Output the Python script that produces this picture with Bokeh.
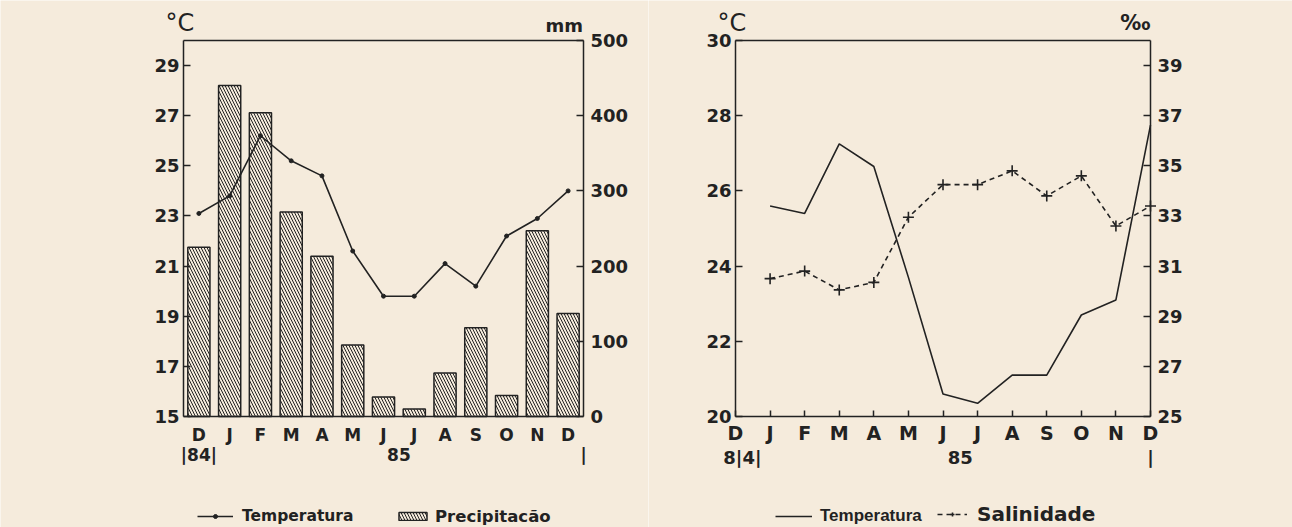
from bokeh.plotting import figure
from bokeh.models import Range1d, LinearAxis, FixedTicker, Label, Legend, LegendItem
from bokeh.layouts import row
from bokeh.embed import file_html
from bokeh.resources import INLINE

# ---------------- data ----------------
months = ["D", "J", "F", "M", "A", "M", "J", "J", "A", "S", "O", "N", "D"]
month_idx = list(range(13))

# left chart: precipitation (mm) and air temperature (°C), Dec 84 .. Dec 85
precip_mm = [225, 440, 404, 272, 213, 95, 26, 10, 58, 118, 28, 247, 137]
temp_air = [23.1, 23.8, 26.2, 25.2, 24.6, 21.6, 19.8, 19.8, 21.1, 20.2, 22.2, 22.9, 24.0]

# right chart: water temperature (°C) and salinity (‰), Jan 85 .. Dec 85
water_idx = list(range(1, 13))
temp_water = [25.6, 25.4, 27.25, 26.65, 23.7, 20.6, 20.35, 21.1, 21.1, 22.7, 23.1, 27.75]
salinity = [30.5, 30.8, 30.05, 30.35, 32.95, 34.25, 34.25, 34.8, 33.8, 34.6, 32.6, 33.4]

left_temp_ticks = [15, 17, 19, 21, 23, 25, 27, 29]
mm_ticks = [0, 100, 200, 300, 400, 500]
right_temp_ticks = [20, 22, 24, 26, 28, 30]
sal_ticks = [25, 27, 29, 31, 33, 35, 37, 39]
year_ticks_left = [0, 6.5, 12.5]
year_labels_left = ["|84|", "85", "|"]
year_ticks_right = [0.2, 6.5, 12]
year_labels_right = ["8|4|", "85", "|"]

# ---------------- layout constants (pixels) ----------------
H = 527
W1, W2 = 648, 644
BOX_T, BOX_B = 40, 416          # top / bottom of both chart boxes
L1, R1 = 183, 583               # left chart box
L2, R2 = 87, 502                # right chart box (relative to its figure)

bg = "#f5ebdc"
ink = "#222222"
FONT = "DejaVu Sans"


def hrng(lo, hi, p_lo, p_hi, total):
    """Horizontal range: data lo..hi spans pixels p_lo..p_hi (from left) of width total."""
    ppu = (p_hi - p_lo) / (hi - lo)
    return Range1d(lo - p_lo / ppu, hi + (total - p_hi) / ppu)


def vrng(lo, hi, p_bottom, p_top, total):
    """Vertical range: data lo..hi spans pixels p_bottom..p_top (from top) of height total."""
    ppu = (p_bottom - p_top) / (hi - lo)
    return Range1d(lo - (total - p_bottom) / ppu, hi + p_top / ppu)


def style_axis(ax, size="18px", tick_in=7, standoff=5, line=True):
    ax.axis_line_color = ink if line else None
    ax.axis_line_width = 1.5
    ax.major_tick_line_color = ink if tick_in else None
    ax.major_tick_line_width = 1.5
    ax.major_tick_in = tick_in
    ax.major_tick_out = 0
    ax.minor_tick_line_color = None
    ax.major_label_text_font = FONT
    ax.major_label_text_font_style = "bold"
    ax.major_label_text_font_size = size
    ax.major_label_text_color = ink
    ax.major_label_standoff = standoff


def add_label(p, text, x, y_top, size, align="left", bold=True):
    p.add_layout(Label(x=x, y=H - y_top, x_units="screen", y_units="screen", text=text,
                       text_font=FONT, text_font_style="bold" if bold else "normal",
                       text_font_size=size, text_color=ink, text_align=align,
                       text_baseline="middle"))


def add_leg(p, label, renderers, x, y_center, size, gw, gh, standoff, font=FONT):
    leg = Legend(items=[LegendItem(label=label, renderers=renderers)],
                 location=(x, H - y_center - 10), orientation="horizontal", padding=0,
                 margin=0, spacing=0, glyph_width=gw, glyph_height=gh,
                 label_standoff=standoff, label_height=20, label_text_font=font,
                 label_text_font_style="bold", label_text_font_size=size,
                 label_text_color=ink, background_fill_alpha=0, border_line_alpha=0)
    p.add_layout(leg, "center")


def base_fig(width, xr, yr):
    p = figure(width=width, height=H, x_range=xr, y_range=yr, output_backend="svg",
               toolbar_location=None, x_axis_location=None, y_axis_location=None,
               min_border=0, background_fill_color=bg, border_fill_color=bg,
               outline_line_color=None)
    p.grid.visible = False
    return p


# ---------------- left chart ----------------
p1 = base_fig(W1, hrng(-0.5, 12.5, L1, R1, W1), vrng(15, 30, BOX_B, BOX_T, H))
p1.extra_y_ranges = {"mm": vrng(0, 500, BOX_B, BOX_T, H)}

ax = LinearAxis(fixed_location=-0.5, bounds=(15, 30), ticker=FixedTicker(ticks=left_temp_ticks))
style_axis(ax, standoff=4)
p1.add_layout(ax, "left")
ax = LinearAxis(fixed_location=12.5, y_range_name="mm", bounds=(0, 500),
                ticker=FixedTicker(ticks=mm_ticks))
style_axis(ax, standoff=7)
p1.add_layout(ax, "right")
ax = LinearAxis(fixed_location=15, bounds=(-0.5, 12.5), ticker=FixedTicker(ticks=month_idx),
                major_label_overrides={i: m for i, m in enumerate(months)})
style_axis(ax, size="17px", tick_in=0, standoff=8)
p1.add_layout(ax, "below")
ax = LinearAxis(fixed_location=15, ticker=FixedTicker(ticks=year_ticks_left),
                major_label_overrides=dict(zip(year_ticks_left, year_labels_left)))
style_axis(ax, size="17px", tick_in=0, standoff=28, line=False)
p1.add_layout(ax, "below")
ax = LinearAxis(fixed_location=30, bounds=(-0.5, 12.5), ticker=FixedTicker(ticks=[]))
style_axis(ax, tick_in=0)
p1.add_layout(ax, "above")

bars = p1.vbar(x=month_idx, top=precip_mm, bottom=0, width=0.72, y_range_name="mm",
               fill_color=bg, line_color=ink, line_width=1.5,
               hatch_pattern="left_diagonal_line", hatch_color=ink,
               hatch_scale=6, hatch_weight=1.0)
tline = p1.line(month_idx, temp_air, line_color=ink, line_width=1.6)
tdots = p1.scatter(month_idx, temp_air, size=4, color=ink)

add_label(p1, "°C", 165, 22, "24px", bold=False)
add_label(p1, "mm", 545, 25, "18px")
add_leg(p1, "Temperatura", [tline, tdots], 197, 516, "15.5px", 36, 10, 9)
add_leg(p1, "Precipitacão", [bars], 395, 516, "16.5px", 35, 10, 5)

# ---------------- right chart ----------------
p2 = base_fig(W2, hrng(0, 12, L2, R2, W2), vrng(20, 30, BOX_B, BOX_T, H))
p2.extra_y_ranges = {"sal": vrng(25, 40, BOX_B, BOX_T, H)}

ax = LinearAxis(fixed_location=0, bounds=(20, 30), ticker=FixedTicker(ticks=right_temp_ticks))
style_axis(ax, standoff=4)
p2.add_layout(ax, "left")
ax = LinearAxis(fixed_location=12, y_range_name="sal", bounds=(25, 40),
                ticker=FixedTicker(ticks=sal_ticks))
style_axis(ax, standoff=7)
p2.add_layout(ax, "right")
ax = LinearAxis(fixed_location=20, bounds=(0, 12), ticker=FixedTicker(ticks=month_idx),
                major_label_overrides={i: m for i, m in enumerate(months)})
style_axis(ax, size="19px", tick_in=6, standoff=5)
p2.add_layout(ax, "below")
ax = LinearAxis(fixed_location=20, ticker=FixedTicker(ticks=year_ticks_right),
                major_label_overrides=dict(zip(year_ticks_right, year_labels_right)))
style_axis(ax, size="18px", tick_in=0, standoff=30, line=False)
p2.add_layout(ax, "below")
ax = LinearAxis(fixed_location=30, bounds=(0, 12), ticker=FixedTicker(ticks=[]))
style_axis(ax, tick_in=0)
p2.add_layout(ax, "above")

wline = p2.line(water_idx, temp_water, line_color=ink, line_width=1.6)
sline = p2.line(water_idx, salinity, y_range_name="sal", line_color=ink, line_width=1.6,
                line_dash="5 4")
smark = p2.scatter(water_idx, salinity, y_range_name="sal", marker="cross", size=11,
                   line_color=ink, line_width=1.6)

add_label(p2, "°C", 69, 22, "24px", bold=False)
add_label(p2, "‰", 502, 22, "21px", align="right")
add_leg(p2, "Temperatura", [wline], 127, 516, "17px", 37, 10, 8,
        font="Liberation Sans Narrow, Liberation Sans")
add_leg(p2, "Salinidade", [sline, smark], 289, 516, "20px", 30, 10, 10)

layout = row(p1, p2)
open("out.html", "w").write(file_html(layout, INLINE))
